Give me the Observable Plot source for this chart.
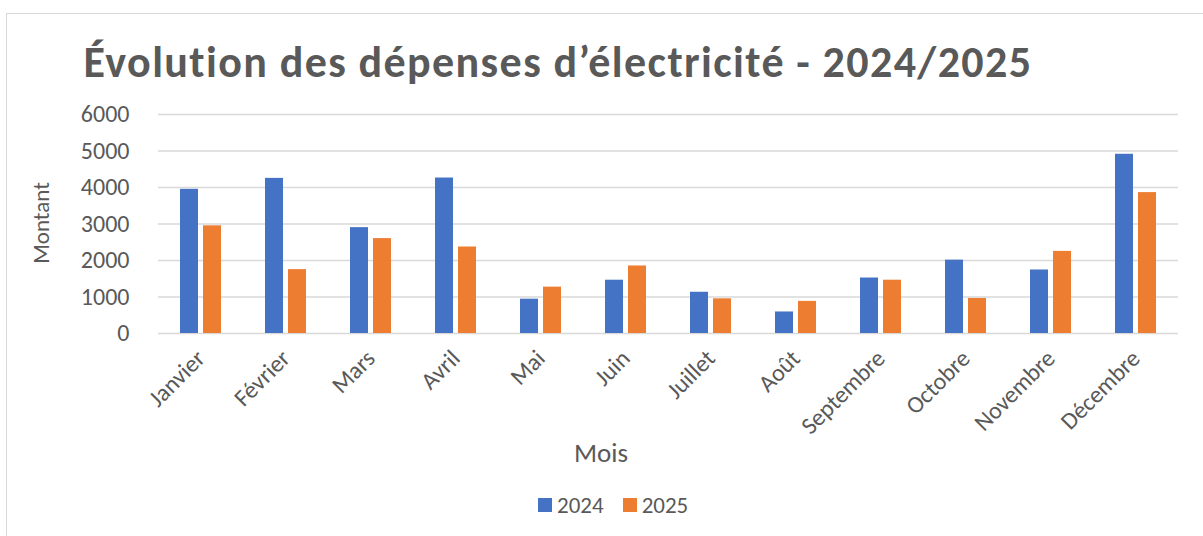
<!DOCTYPE html>
<html>
<head>
<meta charset="utf-8">
<script src="https://cdn.jsdelivr.net/npm/d3@7"></script>
<script src="https://cdn.jsdelivr.net/npm/@observablehq/plot@0.6"></script>
<style>
  html, body { margin: 0; padding: 0; background: #fff; }
  body { width: 1203px; height: 536px; overflow: hidden; font-family: Carlito, Calibri, Lato, sans-serif; color: #595959; }
  #wrap { position: relative; width: 1203px; height: 536px; }
  #frame { position: absolute; left: 6px; top: 13px; width: 1210px; height: 540px; border: 1px solid #d9d9d9; box-sizing: border-box; }
  #title { position: absolute; left: 558px; top: 62px; transform: translate(-50%, -50%); font-size: 44px; letter-spacing: 1.4px; font-weight: 700; color: #595959; white-space: nowrap; }
  #ylabel { position: absolute; left: 41px; top: 223px; transform: translate(-50%, -50%) rotate(-90deg); font-size: 23px; white-space: nowrap; }
  #xlabel { position: absolute; left: 601px; top: 452px; transform: translate(-50%, -50%); font-size: 27px; }
  #legend { position: absolute; top: 505px; left: 538px; transform: translateY(-50%); display: flex; align-items: center; gap: 19px; font-size: 23px; }
  #legend span.sw { display: inline-block; width: 14px; height: 14px; margin-right: 5px; }
  #legend .item { display: flex; align-items: center; }
  #chart { position: absolute; left: 0; top: 0; }
</style>
</head>
<body>
<div id="wrap">
  <div id="frame"></div>
  <div id="title">Évolution des dépenses d’électricité - 2024/2025</div>
  <div id="chart"></div>
  <div id="ylabel">Montant</div>
  <div id="xlabel">Mois</div>
  <div id="legend"></div>
</div>
<script>
const months = ["Janvier","Février","Mars","Avril","Mai","Juin","Juillet","Août","Septembre","Octobre","Novembre","Décembre"];
const years = ["2024","2025"];
const values2024 = [3950, 4250, 2900, 4260, 940, 1460, 1130, 590, 1520, 2010, 1740, 4910];
const values2025 = [2950, 1750, 2600, 2370, 1270, 1850, 950, 880, 1460, 960, 2250, 3860];
const yTicks = [0, 1000, 2000, 3000, 4000, 5000, 6000];
const colors = ["#4472C4", "#ED7D31"];

const data = [];
months.forEach((m, i) => {
  data.push({month: m, year: years[0], value: values2024[i]});
  data.push({month: m, year: years[1], value: values2025[i]});
});

const chart = Plot.plot({
  width: 1203,
  height: 470,
  marginLeft: 152,
  marginRight: 20,
  marginTop: 114,
  marginBottom: 137,
  style: {fontFamily: "Carlito, Calibri, Lato, sans-serif", fontSize: "24px", color: "#595959", background: "transparent"},
  fx: {domain: months, padding: 0, label: null},
  x: {domain: years, paddingInner: 5/24, paddingOuter: 0.896, axis: null},
  y: {domain: [0, 6000], label: null},
  color: {domain: years, range: colors},
  marks: [
    Plot.gridY(yTicks, {stroke: "#d9d9d9", strokeOpacity: 1, strokeWidth: 1.5}),
    Plot.barY(data, {fx: "month", x: "year", y: "value", fill: "year"}),
    Plot.axisY(yTicks, {tickSize: 0, tickPadding: 29, tickFormat: d => String(d), label: null, fontSize: 24}),
    Plot.axisFx({anchor: "bottom", tickRotate: -45, tickSize: 0, tickPadding: 21, label: null, fontSize: 24})
  ]
});
document.getElementById("chart").appendChild(chart);

const legend = document.getElementById("legend");
years.forEach((y, i) => {
  const item = document.createElement("div");
  item.className = "item";
  item.innerHTML = `<span class="sw" style="background:${colors[i]}"></span>${y}`;
  legend.appendChild(item);
});
</script>
</body>
</html>
